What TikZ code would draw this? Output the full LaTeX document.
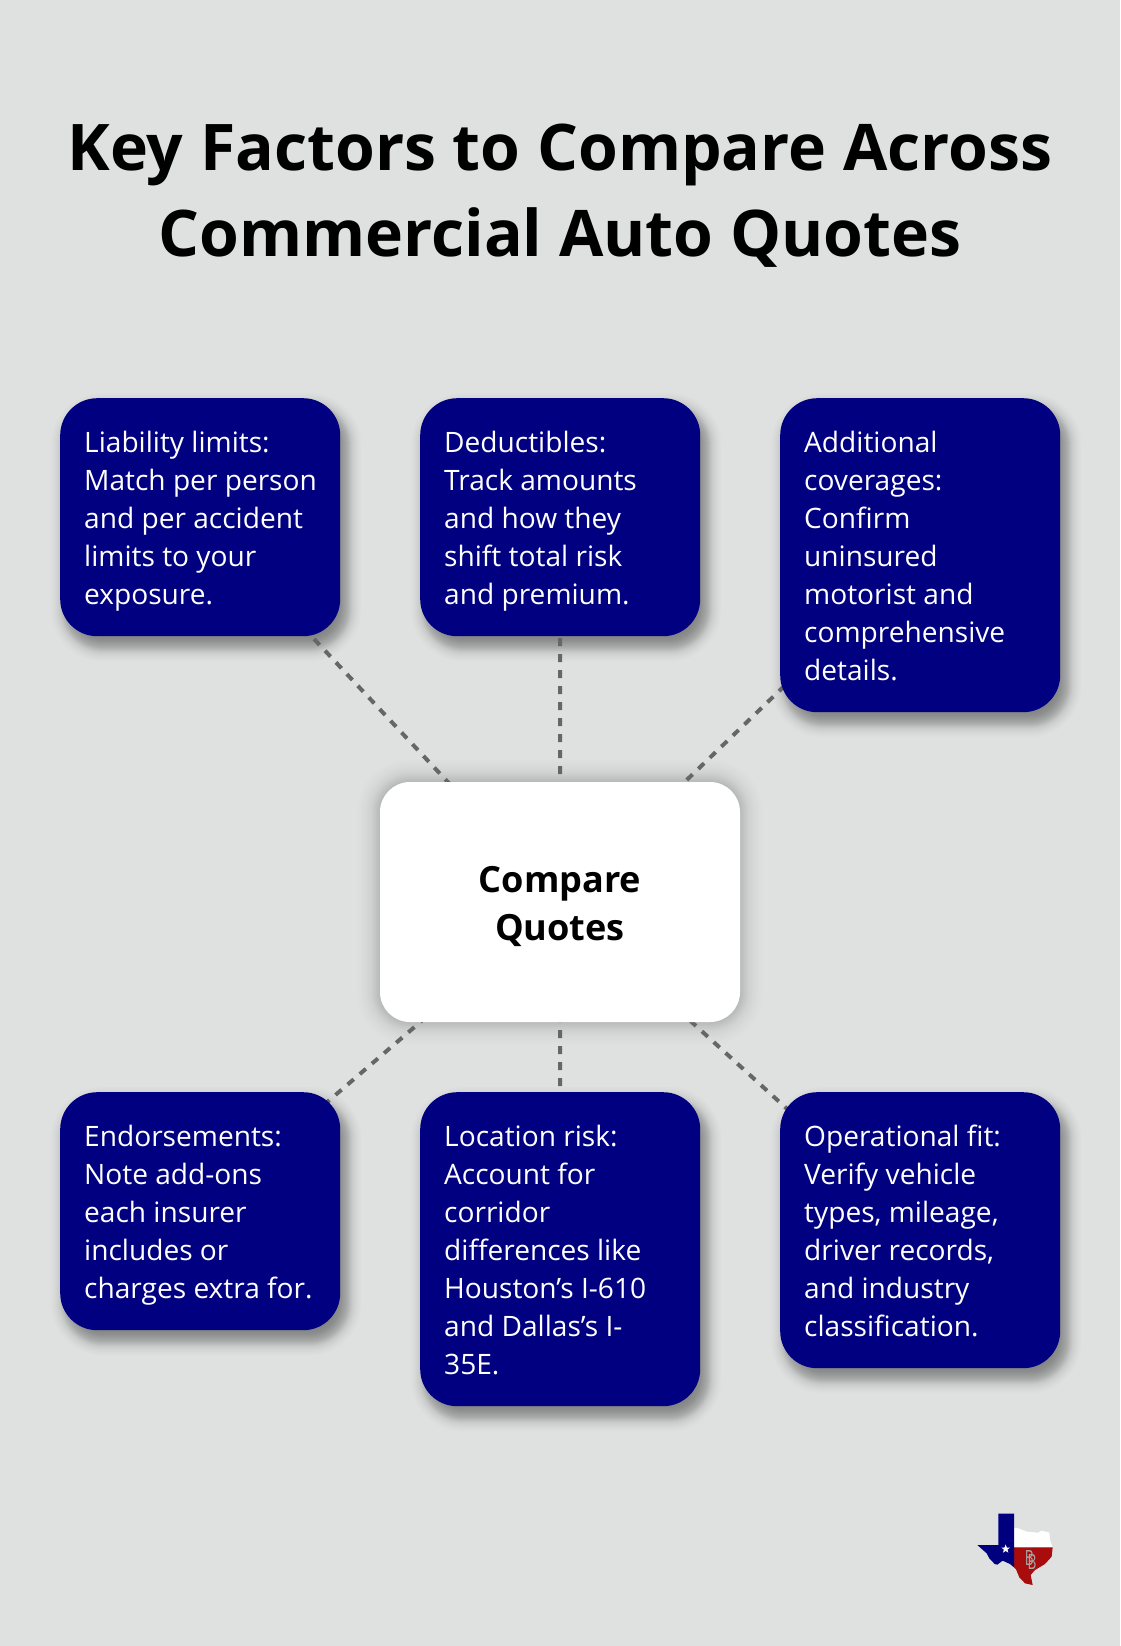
\documentclass[tikz,border=0pt]{standalone}
\usepackage{fontspec}
\usetikzlibrary{shapes.geometric}
\setmainfont{Open Sans}
\pgfdeclarelayer{shadowlayer}
\pgfdeclarelayer{linklayer}
\pgfsetlayers{shadowlayer,linklayer,main}
\definecolor{pagebg}{HTML}{DFE1E1}
\definecolor{navybox}{HTML}{000080}
\definecolor{linkgray}{HTML}{666666}
\definecolor{txblue}{HTML}{00007F}
\definecolor{txred}{HTML}{A80C0C}
\newcommand{\boxtext}{\fontsize{28.1}{38}\selectfont}
\tikzset{
  x=1pt,y=-1pt,
  infobox/.style={draw=none,fill=navybox,rounded corners=37pt,anchor=north west,inner sep=0pt,minimum width=280pt},
  infotext/.style={anchor=north west,inner sep=0pt,text=white,align=left,font=\boxtext},
  linkline/.style={draw=linkgray,line width=4pt,dash pattern=on 8pt off 8pt},
}
% #1 node name, #2 corner radius base, #3 x offset, #4 y offset, #5 spread factor, #6 opacity per layer
\newcommand{\softshadow}[6]{%
  \begin{pgfonlayer}{shadowlayer}
  \foreach \ee in {-15,-13,-11.5,-10,-9,-8,-7,-6,-5.5,-5,-4.5,-4,-3.5,-3,-2.5,-2,-1.5,-1,-.5,0,.5,1,1.5,2,2.5,3,3.5,4,4.5,5,5.5,6,7,8,9,10,11.5,13,15}{
    \pgfmathsetmacro{\e}{\ee*#5}
    \pgfmathsetmacro{\rr}{max(#2+\e,2)}
    \fill[black,opacity=#6,rounded corners=\rr pt]
      ([xshift=#3pt-\e pt,yshift=-#4pt+\e pt]#1.north west) rectangle
      ([xshift=#3pt+\e pt,yshift=-#4pt-\e pt]#1.south east);
  }
  \end{pgfonlayer}}
\begin{document}
\begin{tikzpicture}
\useasboundingbox (0,0) rectangle (1120,1646);
\begin{pgfonlayer}{shadowlayer}
\fill[pagebg] (0,0) rectangle (1120,1646);
\end{pgfonlayer}

\node[font=\bfseries\fontsize{64.3}{86}\selectfont,align=center,text=black] (title) at (560,196)
  {Key Factors to Compare Across\\Commercial Auto Quotes};

\node[fill=white,rounded corners=30pt,minimum width=360pt,minimum height=240pt,inner sep=0pt] (hub) at (560,902) {};
\node[font=\bfseries\fontsize{36.1}{48}\selectfont,align=center,inner sep=0pt] (hubt) at (560,906.5) {Compare\\Quotes};

\node[infobox,minimum height=238pt] (a) at (60,398) {};
\node[infobox,minimum height=238pt] (b) at (420,398) {};
\node[infobox,minimum height=314pt] (c) at (780,398) {};
\node[infobox,minimum height=238pt] (d) at (60,1092) {};
\node[infobox,minimum height=314pt] (e) at (420,1092) {};
\node[infobox,minimum height=276pt] (f) at (780,1092) {};

\node[infotext] (at) at (84,431) {Liability limits:\\Match per person\\and per accident\\limits to your\\exposure.};
\node[infotext] (bt) at (444,431) {Deductibles:\\Track amounts\\and how they\\shift total risk\\and premium.};
\node[infotext] (ct) at (804,431) {Additional\\coverages:\\Confirm\\uninsured\\motorist and\\comprehensive\\details.};
\node[infotext] (dt) at (84,1125) {Endorsements:\\Note add-ons\\each insurer\\includes or\\charges extra for.};
\node[infotext] (et) at (444,1125) {Location risk:\\Account for\\corridor\\differences like\\Houston’s I-610\\and Dallas’s I-\\35E.};
\node[infotext] (ft) at (804,1125) {Operational fit:\\Verify vehicle\\types, mileage,\\driver records,\\and industry\\classification.};

\foreach \t in {a,b,c,d,e,f}{
  \softshadow{\t}{37}{6}{10}{1}{0.011}
}
\softshadow{hub}{30}{0}{0}{1.5}{0.0075}

\begin{pgfonlayer}{linklayer}
\foreach \t in {a,b,c,d,e,f}{
  \draw[linkline] (hub.center) -- (\t.center);
}
\end{pgfonlayer}

% Texas logo
\begin{scope}[shift={(960,1490)},x=0.3333pt,y=-0.3333pt]
\fill[white] (162,113) -- (175,115) -- (200,125) -- (235,128) -- (245,122) -- (268,128) -- (270,150) -- (278,172) -- (162,172) -- cycle;
\fill[txred] (162,172) -- (278,172) -- (275,200) -- (255,222) -- (225,240) -- (212,255) -- (218,285) -- (195,280) -- (178,262) -- (168,238) -- (162,232) -- cycle;
\fill[txblue] (115,71) -- (162,71) -- (162,232) -- (150,222) -- (128,212) -- (112,224) -- (104,222) -- (88,205) -- (80,190) -- (52,165) -- (115,165) -- cycle;
\node[star,star points=5,star point ratio=2.4,fill=white,inner sep=0pt,minimum size=9pt] (star) at (137,177) {};
\node[text=black!35,font=\fontsize{21}{21}\selectfont\rmfamily,inner sep=0pt,xscale=.65] (mono) at (212,210) {B\kern-9pt\raisebox{-3.5pt}{B}};
\end{scope}
\end{tikzpicture}
\end{document}
